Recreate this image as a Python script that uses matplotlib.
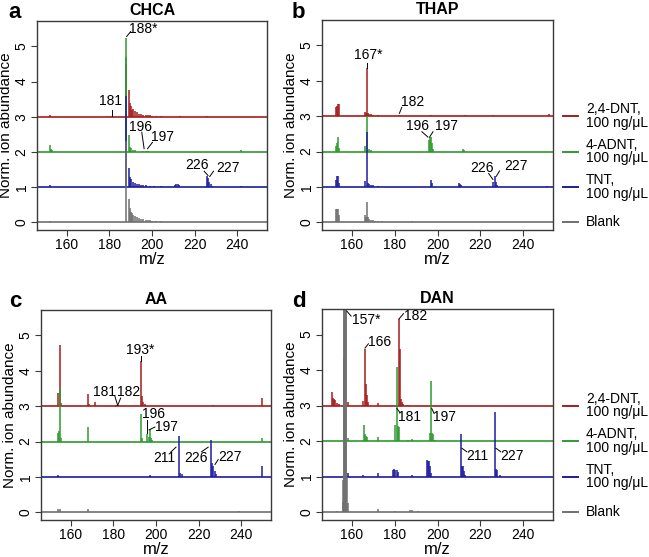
import numpy as np
import matplotlib
matplotlib.use("Agg")
import matplotlib.pyplot as plt

plt.rcParams['font.family'] = ['Liberation Sans', 'DejaVu Sans']

# series colours / legend
series_names = ["2,4-DNT,\n100 ng/\u03bcL", "4-ADNT,\n100 ng/\u03bcL", "TNT,\n100 ng/\u03bcL", "Blank"]
series_colors = ["#a51d1d", "#2f9a2f", "#1c1ca0", "#707070"]
offsets = [3, 2, 1, 0]

# peak lists (m/z, normalised intensity)
chca_dnt = [(152, 0.05), (181, 0.03), (188, 1.5), (189, 0.75), (189.5, 0.4), (190, 0.3), (190.5, 0.2),
            (191, 0.22), (192, 0.15), (193, 0.12), (194, 0.09), (195, 0.07), (196, 0.06), (197, 0.05),
            (198, 0.04), (199, 0.04), (200, 0.03), (202, 0.03), (204, 0.02), (213, 0.02), (226, 0.02)]
chca_adnt = [(152, 0.2), (152.5, 0.08), (153, 0.04), (187.7, 2.7), (188, 3.25), (189, 0.47), (189.5, 0.15),
             (190, 0.1), (191, 0.06), (192, 0.04), (196, 0.03), (197, 0.03), (198, 0.02), (242, 0.04)]
chca_tnt = [(152, 0.07), (188, 2.6), (189, 0.55), (189.5, 0.3), (190, 0.22), (191, 0.15), (192, 0.12),
            (193, 0.1), (194, 0.08), (195, 0.06), (196, 0.05), (197, 0.05), (199, 0.04), (201, 0.03),
            (204, 0.03), (211, 0.07), (211.5, 0.09), (212, 0.08), (212.5, 0.05), (226, 0.32), (226.5, 0.25),
            (227, 0.15), (227.5, 0.08), (228, 0.04), (242, 0.02)]
chca_blank = [(152, 0.04), (160, 0.02), (170, 0.02), (188, 2.3), (189, 0.65), (189.5, 0.4), (190, 0.3),
              (190.5, 0.25), (191, 0.22), (192, 0.17), (193, 0.14), (194, 0.11), (195, 0.09), (196, 0.08),
              (197, 0.07), (198, 0.06), (199, 0.05), (200, 0.04), (202, 0.03), (204, 0.03), (206, 0.02)]

thap_dnt = [(152.5, 0.25), (153, 0.3), (153.5, 0.35), (154, 0.33), (166, 0.12), (166.5, 0.1), (167, 1.35),
            (167.5, 0.08), (168, 0.07), (169, 0.05), (170, 0.03), (172, 0.02), (182, 0.02), (197, 0.02),
            (213, 0.02), (226, 0.02), (252, 0.05)]
thap_adnt = [(152.5, 0.15), (153, 0.25), (153.5, 0.42), (154, 0.1), (166, 0.17), (167, 1.0), (168, 0.07),
             (169, 0.04), (196, 0.33), (196.5, 0.4), (197, 0.42), (197.5, 0.25), (198, 0.08), (212, 0.08),
             (212.5, 0.05)]
thap_tnt = [(152.5, 0.2), (153, 0.3), (153.5, 0.32), (154, 0.1), (166, 0.18), (167, 1.55), (167.5, 0.1),
            (168, 0.07), (169, 0.05), (170, 0.04), (172, 0.03), (197, 0.2), (197.5, 0.1), (210, 0.1),
            (210.5, 0.08), (211, 0.05), (226, 0.15), (227, 0.3), (227.5, 0.15), (228, 0.05), (251, 0.03)]
thap_blank = [(152.5, 0.37), (153, 0.37), (153.5, 0.37), (154, 0.2), (166, 0.2), (166.5, 0.15), (167, 0.57),
              (167.5, 0.15), (168, 0.1), (169, 0.07), (170, 0.05), (171, 0.04), (172, 0.03), (174, 0.03),
              (176, 0.02), (188, 0.04), (197, 0.02)]

aa_dnt = [(154, 0.38), (155, 1.72), (155.5, 0.1), (168, 0.35), (168.5, 0.05), (171.5, 0.12), (181, 0.03),
          (182, 0.04), (193, 1.28), (193.5, 0.3), (194, 0.12), (195, 0.05), (227, 0.04), (250, 0.22)]
aa_adnt = [(154, 0.25), (154.5, 0.3), (155, 1.5), (155.5, 0.1), (168, 0.4), (193, 0.77), (193.5, 0.1),
           (196, 0.2), (196.5, 0.12), (197, 0.35), (197.5, 0.1), (198, 0.04), (250, 0.1)]
aa_tnt = [(154, 0.04), (197, 0.05), (211, 1.15), (211.5, 0.12), (212, 0.08), (226, 1.05), (226.5, 0.4),
          (227, 0.3), (227.5, 0.18), (228, 0.08), (250, 0.3)]
aa_blank = [(154, 0.08), (155, 0.1), (168, 0.1), (226, 0.02), (239, 0.04)]

dan_dnt = [(150.5, 0.38), (151, 0.22), (151.5, 0.2), (152, 0.15), (153, 0.08), (154, 0.04), (156.3, 1.35),
           (158, 0.1), (165, 0.12), (166, 1.6), (166.5, 0.6), (167, 0.3), (167.5, 0.1), (172, 0.07),
           (182, 2.45), (182.4, 1.6), (183, 0.18), (183.5, 0.1), (184, 0.05), (186, 0.03)]
dan_adnt = [(156.3, 1.3), (158, 0.1), (165.5, 0.45), (166, 0.2), (166.5, 0.15), (167, 0.12), (172, 0.12),
            (180.3, 0.45), (181, 2.1), (181.5, 0.42), (182, 0.4), (186, 0.04), (188, 0.05), (196.5, 0.22),
            (197, 1.68), (197.5, 0.22), (198, 0.2), (199, 0.04)]
dan_tnt = [(158, 0.1), (165, 0.04), (172, 0.1), (179, 0.18), (179.5, 0.22), (180, 0.2), (181, 0.18),
           (181.5, 0.12), (188, 0.05), (195, 0.47), (195.5, 0.44), (196, 0.45), (196.5, 0.3), (197, 0.1),
           (211, 1.2), (211.5, 0.3), (212, 0.3), (212.5, 0.15), (213, 0.05), (227, 1.82), (227.5, 0.22),
           (228, 0.2), (229, 0.04)]
dan_blank = [(153, 0.04), (155.6, 0.3), (155.8, 0.9), (156.2, 5.9), (156.5, 5.9), (156.8, 5.9), (157.1, 5.9),
             (157.4, 5.9), (157.7, 1.0), (158.1, 0.25), (172, 0.08), (180, 0.04), (187, 0.05), (188, 0.05),
             (191, 0.03)]

xticks = [160, 180, 200, 220, 240]
yticks = [0, 1, 2, 3, 4, 5]

fig = plt.figure(figsize=(6.49, 5.57), dpi=100)
W, H = 649, 557


def make_ax(l, t, r, b):
    return fig.add_axes([l / W, 1 - b / H, (r - l) / W, (b - t) / H])


panels = [
    ("a", "CHCA", make_ax(37, 21, 267, 230), [chca_dnt, chca_adnt, chca_tnt, chca_blank], False, (14.5, 18)),
    ("b", "THAP", make_ax(322, 20, 553, 230), [thap_dnt, thap_adnt, thap_tnt, thap_blank], True, (298.5, 18)),
    ("c", "AA", make_ax(41, 310, 271, 520), [aa_dnt, aa_adnt, aa_tnt, aa_blank], False, (15.5, 307)),
    ("d", "DAN", make_ax(322, 309, 553, 520), [dan_dnt, dan_adnt, dan_tnt, dan_blank], True, (298.5, 307)),
]

edge = "#3a3a3a"
for letter, title, ax, spectra, legend, lpos in panels:
    for spec, off, col in zip(spectra, offsets, series_colors):
        ax.axhline(off, color=col, lw=1.2, zorder=2)
        mz = np.array([p[0] for p in spec])
        inten = np.array([p[1] for p in spec])
        ax.vlines(mz, off, off + inten, color=col, lw=1.1, zorder=2)
    ax.set_xlim(146, 254)
    ax.set_ylim(-0.22, 5.72)
    ax.set_xticks(xticks)
    ax.set_yticks(yticks)
    ax.set_yticklabels([str(v) for v in yticks], rotation=90, va="center")
    ax.tick_params(direction="out", length=4, width=0.8, color=edge, labelsize=10, pad=2)
    for s in ax.spines.values():
        s.set_color(edge)
        s.set_linewidth(1.0)
    ax.set_xlabel("m/z", fontsize=12, labelpad=0)
    ax.set_ylabel("Norm. ion abundance", fontsize=11, labelpad=1)
    ax.set_title(title, fontsize=11.5, fontweight="bold", pad=4)
    fig.text(lpos[0] / W, 1 - lpos[1] / H, letter, fontsize=16, fontweight="bold",
             ha="center", va="baseline")
    if legend:
        tr = ax.get_yaxis_transform()
        for name, off, col in zip(series_names, offsets, series_colors):
            ax.plot([1.043, 1.108], [off, off], color=col, lw=1.4, transform=tr, clip_on=False)
            ax.text(1.143, off, name, transform=tr, fontsize=10, va="center", ha="left",
                    linespacing=0.95)


def label(ax, txt, txy, p0, p1):
    # text plus a short leader line toward the peak
    ax.text(txy[0], txy[1], txt, fontsize=10, ha="center", va="center", zorder=4)
    ax.plot([p0[0], p1[0]], [p0[1], p1[1]], color="black", lw=0.7, zorder=4)


ax_a, ax_b, ax_c, ax_d = [p[2] for p in panels]

label(ax_a, "188*", (195.8, 5.5), (188.1, 5.28), (190, 5.42))
label(ax_a, "181", (180.7, 3.44), (181.1, 3.03), (181.1, 3.18))
label(ax_a, "196", (194.8, 2.70), (195.2, 2.56), (196.3, 2.09))
label(ax_a, "197", (205, 2.41), (197.9, 2.09), (200.2, 2.27))
label(ax_a, "226", (221, 1.64), (224.5, 1.45), (226.3, 1.33))
label(ax_a, "227", (235.8, 1.53), (227.1, 1.30), (228.9, 1.45))

label(ax_b, "167*", (167.7, 4.74), (167.2, 4.36), (167.2, 4.5))
label(ax_b, "182", (188.4, 3.41), (182.2, 3.08), (183.3, 3.25))
label(ax_b, "196", (190.7, 2.72), (192.7, 2.56), (195.5, 2.41))
label(ax_b, "197", (204, 2.72), (196.3, 2.41), (197.9, 2.56))
label(ax_b, "226", (220.8, 1.52), (223.9, 1.38), (225.9, 1.21))
label(ax_b, "227", (236.8, 1.6), (227.5, 1.3), (229, 1.45))

label(ax_c, "193*", (192.5, 4.6), (193.1, 4.29), (193.1, 4.42))
label(ax_c, "181", (176, 3.39), (180.7, 3.28), (182, 3.02))
label(ax_c, "182", (187, 3.39), (182, 3.02), (183.4, 3.23))
label(ax_c, "196", (199, 2.79), (195.6, 2.25), (195.6, 2.62))
label(ax_c, "197", (205, 2.41), (196.8, 2.33), (199.5, 2.41))
label(ax_c, "211", (203.7, 1.53), (206.9, 1.70), (209.4, 1.84))
label(ax_c, "226", (218.7, 1.53), (221.4, 1.71), (224.5, 1.84))
label(ax_c, "227", (234.7, 1.56), (227.7, 1.35), (229.2, 1.49))

label(ax_d, "157*", (166.9, 5.42), (157.6, 5.66), (159.6, 5.52))
label(ax_d, "182", (189.9, 5.52), (182, 5.44), (184.1, 5.59))
label(ax_d, "166", (172.8, 4.78), (166.1, 4.62), (167.7, 4.74))
label(ax_d, "181", (187, 2.67), (181, 2.92), (182.5, 2.80))
label(ax_d, "197", (203.2, 2.67), (197.3, 2.92), (198.4, 2.78))
label(ax_d, "211", (218.8, 1.58), (211.4, 1.80), (213.7, 1.70))
label(ax_d, "227", (234.8, 1.58), (227.3, 1.80), (229.6, 1.70))

fig.savefig("out.png", dpi=100)
